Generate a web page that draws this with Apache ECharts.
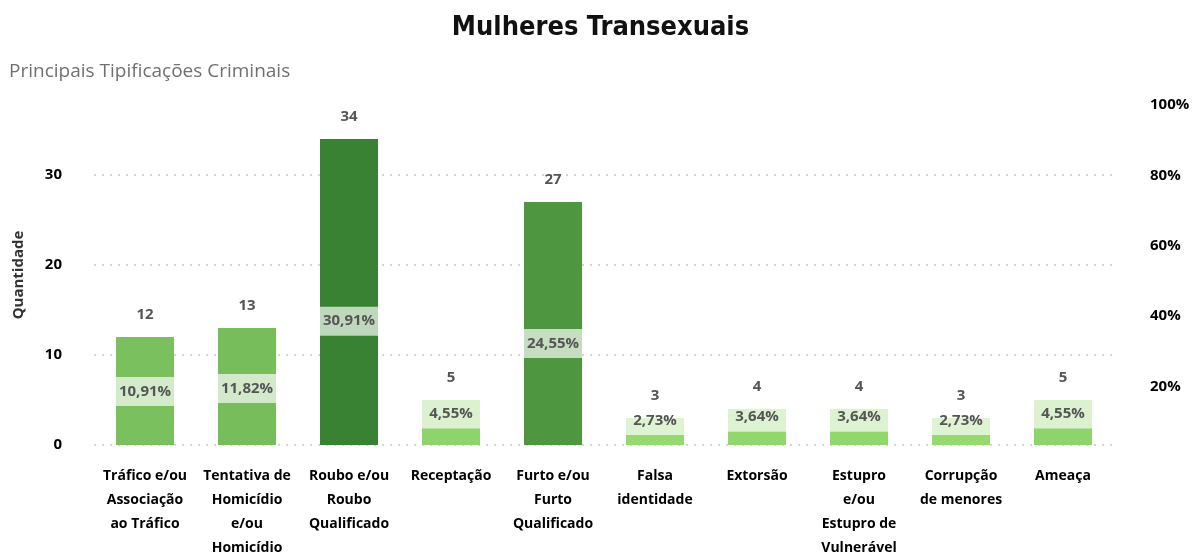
<!DOCTYPE html>
<html>
<head>
<meta charset="utf-8">
<script src="https://cdn.jsdelivr.net/npm/echarts@6/dist/echarts.min.js"></script>
<style>
  html, body { margin: 0; padding: 0; background: #fff; }
  #main { width: 1201px; height: 556px; }
</style>
</head>
<body>
<div id="main"></div>
<script>
const chart = echarts.init(document.querySelector("#main"));

// dados
const categorias = [
    "Tráfico e/ou\nAssociação\nao Tráfico",
    "Tentativa de\nHomicídio\ne/ou\nHomicídio",
    "Roubo e/ou\nRoubo\nQualificado",
    "Receptação",
    "Furto e/ou\nFurto\nQualificado",
    "Falsa\nidentidade",
    "Extorsão",
    "Estupro\ne/ou\nEstupro de\nVulnerável",
    "Corrupção\nde menores",
    "Ameaça",
];
const quantidades = [12, 13, 34, 5, 27, 3, 4, 4, 3, 5];
const percentuais = [10.91, 11.82, 30.91, 4.55, 24.55, 2.73, 3.64, 3.64, 2.73, 4.55];

const fonte = "'Open Sans', 'Noto Sans', sans-serif";

const option = {
    animation: false,
    title: [
        {
            text: "Mulheres Transexuais",
            left: "center",
            top: 9,
            textStyle: {
                fontFamily: "'DejaVu Sans Condensed', 'DejaVu Sans', sans-serif",
                fontSize: 27,
                fontWeight: "bold",
                color: "#111",
            },
        },
        {
            text: "Principais Tipificações Criminais",
            left: 4,
            top: 57,
            textStyle: {
                fontFamily: fonte,
                fontSize: 19,
                fontWeight: "normal",
                color: "#707070",
            },
        },
    ],
    visualMap: {
        show: false,
        type: "continuous",
        seriesIndex: 0,
        dimension: 1,
        min: 3,
        max: 34,
        inRange: { color: ["#95D970", "#3A8233"] },
    },
    grid: [
        { left: 94, right: 87, top: 105, bottom: 111, outerBoundsMode: "none" },
        { left: 94, right: 87, top: 105, bottom: 99, outerBoundsMode: "none" },
    ],
    xAxis: [
        {
            type: "category",
            gridIndex: 0,
            data: categorias,
            axisLine: { show: false },
            axisTick: { show: false },
            axisLabel: {
                interval: 0,
                margin: 19,
                fontFamily: fonte,
                fontSize: 14,
                fontWeight: "bold",
                lineHeight: 24,
                color: "#000",
            },
        },
        {
            type: "category",
            gridIndex: 1,
            data: categorias,
            show: false,
        },
    ],
    yAxis: [
        {
            type: "value",
            gridIndex: 0,
            min: 0,
            max: 37.78,
            interval: 10,
            name: "Quantidade",
            nameLocation: "middle",
            nameGap: 68,
            nameTextStyle: {
                fontFamily: fonte,
                fontSize: 15,
                fontWeight: "bold",
                color: "#333",
            },
            axisLine: { show: false },
            axisTick: { show: false },
            axisLabel: {
                showMaxLabel: false,
                margin: 32,
                fontFamily: fonte,
                fontSize: 15,
                fontWeight: "bold",
                color: "#000",
            },
            splitLine: {
                showMaxLine: false,
                lineStyle: { type: [2, 6], color: "#c8c8c8", width: 1.5 },
            },
        },
        {
            type: "value",
            gridIndex: 1,
            position: "right",
            min: 0,
            max: 100,
            interval: 20,
            axisLine: { show: false },
            axisTick: { show: false },
            splitLine: { show: false },
            axisLabel: {
                showMinLabel: false,
                margin: 36,
                formatter: "{value}%",
                fontFamily: fonte,
                fontSize: 15,
                fontWeight: "bold",
                color: "#000",
            },
        },
    ],
    series: [
        {
            name: "Quantidade",
            type: "bar",
            xAxisIndex: 0,
            yAxisIndex: 0,
            barWidth: 58,
            data: quantidades,
            label: {
                show: true,
                position: "top",
                distance: 15,
                fontFamily: fonte,
                fontSize: 15,
                fontWeight: "bold",
                color: "#555",
            },
        },
        {
            name: "Percentual",
            type: "line",
            xAxisIndex: 1,
            yAxisIndex: 1,
            z: 5,
            data: percentuais,
            symbol: "circle",
            symbolSize: 1,
            showSymbol: true,
            itemStyle: { color: "rgba(0,0,0,0)" },
            lineStyle: { opacity: 0 },
            label: {
                show: true,
                position: "top",
                distance: 12,
                width: 58,
                align: "center",
                padding: [5, 0, 5, 0],
                lineHeight: 19,
                backgroundColor: "rgba(255,255,255,0.68)",
                fontFamily: fonte,
                fontSize: 15,
                fontWeight: "bold",
                color: "#555",
                formatter: (p) => p.value.toFixed(2).replace(".", ",") + "%",
            },
        },
    ],
};

chart.setOption(option);
</script>
</body>
</html>
